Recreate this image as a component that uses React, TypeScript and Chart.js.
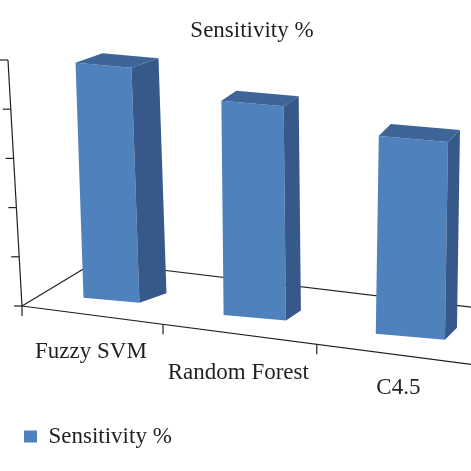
import React, { useEffect, useRef } from 'react';
import { Chart, registerables } from 'chart.js';

Chart.register(...registerables);

// ---- data ----
const categories = ['Fuzzy SVM', 'Random Forest', 'C4.5'];
const sensitivity = [95.5, 87.1, 80.4];
const seriesLabel = 'Sensitivity %';
const chartTitle = 'Sensitivity %';
const yTicks = [0, 20, 40, 60, 80, 100];

// ---- styles ----
const FONT = 'Liberation Serif';
const INK = '#231F20';
const FRONT = '#4F81BD';
const SIDE = '#36598A';
const TOP = '#3D6597';

// ---- perspective geometry (image space) ----
const GEO = {
  originX: 22,
  originY: 306,
  spanX: 444,
  valueSpan: 246,
  axisLean: 0.057,
  slope: 0.13,
  backSlope: 0.12,
  warpA: 0.91,
  warpB: 0.00029,
  shiftX0: 22.5,
  shiftX1: -0.028,
  shiftY0: -14,
  shiftY1: -0.011,
  width0: 53,
  width1: 0.043,
  lean0: 0.045,
  lean1: -0.00016,
  barSlope: 0.088,
  depths: [
    [27, -9.5],
    [15, -10],
    [12, -12],
  ],
  floorDepth: [73, -44],
  yTickLen: 8,
  xTickLen: 10,
  labelDy: 36,
  labelFont: 23,
};

const warp = (u: number) => u * (GEO.warpA + GEO.warpB * u);
const floorPt = (w: number) => [GEO.originX + w, GEO.originY + GEO.slope * w];

function scalesInfo(chart: any) {
  const ca = chart.chartArea;
  const su = GEO.spanX / (ca.right - ca.left);
  const sv = GEO.valueSpan / (ca.bottom - ca.top);
  return { ca, su, sv };
}

function barMatrix(chart: any, el: any) {
  const { ca, su, sv } = scalesInfo(chart);
  const { x, width } = el.getProps(['x', 'width'], true);
  const w = warp((x - ca.left) * su);
  const fp = floorPt(w);
  const ax = fp[0] + GEO.shiftX0 + GEO.shiftX1 * w;
  const ay = fp[1] + GEO.shiftY0 + GEO.shiftY1 * w;
  const k = (GEO.width0 + GEO.width1 * w) / width;
  const lean = GEO.lean0 + GEO.lean1 * w;
  const s = GEO.barSlope;
  const B = ca.bottom;
  return [k, s * k, lean * sv, sv, ax - k * x - lean * sv * B, ay - s * k * x - sv * B];
}

const apply = (m: number[], x: number, y: number) => [m[0] * x + m[2] * y + m[4], m[1] * x + m[3] * y + m[5]];

const perspective = {
  id: 'perspective',
  beforeDatasetsDraw(chart: any) {
    const ctx = chart.ctx as CanvasRenderingContext2D;
    const { ca, su, sv } = scalesInfo(chart);
    const xs = chart.scales.x;
    const ys = chart.scales.y;
    const line = (p: number[], q: number[]) => {
      ctx.beginPath();
      ctx.moveTo(p[0], p[1]);
      ctx.lineTo(q[0], q[1]);
      ctx.stroke();
    };
    const axisPt = (val: number) => {
      const v = (ca.bottom - ys.getPixelForValue(val)) * sv;
      return [GEO.originX - GEO.axisLean * v, GEO.originY - v];
    };

    ctx.save();
    ctx.strokeStyle = INK;
    ctx.lineWidth = 1.2;
    // floor edges
    const o = floorPt(0);
    const far = floorPt(warp(GEO.spanX * 1.08));
    line(o, far);
    const bl = [o[0] + GEO.floorDepth[0], o[1] + GEO.floorDepth[1]];
    const farBackX = far[0] + GEO.floorDepth[0];
    line(bl, [farBackX, bl[1] + GEO.backSlope * (farBackX - bl[0])]);
    line(o, bl);
    // value axis
    line(axisPt(yTicks[0]), axisPt(yTicks[yTicks.length - 1]));
    yTicks.forEach((t) => {
      const p = axisPt(t);
      line([p[0] - GEO.yTickLen, p[1]], p);
    });
    // category ticks
    const n = categories.length;
    const c0 = xs.getPixelForValue(0);
    const step = xs.getPixelForValue(1) - c0;
    for (let i = 0; i <= n; i++) {
      const bx = c0 - step / 2 + i * step;
      const p = floorPt(warp((bx - ca.left) * su));
      line(p, [p[0], p[1] + GEO.xTickLen]);
    }
    ctx.restore();

    // bars: front faces drawn by Chart.js elements in perspective, plus top/side faces
    const meta = chart.getDatasetMeta(0);
    const poly = (pts: number[][], color: string) => {
      ctx.beginPath();
      ctx.moveTo(pts[0][0], pts[0][1]);
      for (let i = 1; i < pts.length; i++) ctx.lineTo(pts[i][0], pts[i][1]);
      ctx.closePath();
      ctx.fillStyle = color;
      ctx.fill();
    };
    meta.data.forEach((el: any, i: number) => {
      const m = barMatrix(chart, el);
      ctx.save();
      ctx.transform(m[0], m[1], m[2], m[3], m[4], m[5]);
      el.draw(ctx);
      ctx.restore();
      const { x, y, base, width } = el.getProps(['x', 'y', 'base', 'width'], true);
      const d = GEO.depths[i % GEO.depths.length];
      const add = (p: number[]) => [p[0] + d[0], p[1] + d[1]];
      const tl = apply(m, x - width / 2, y);
      const tr = apply(m, x + width / 2, y);
      const br = apply(m, x + width / 2, base);
      ctx.save();
      poly([tl, tr, add(tr), add(tl)], TOP);
      poly([tr, br, add(br), add(tr)], SIDE);
      ctx.restore();
    });

    // category labels: centred on the category, baseline following the floor edge under the label's right end
    ctx.save();
    ctx.fillStyle = INK;
    ctx.font = `${GEO.labelFont}px "${FONT}"`;
    ctx.textAlign = 'center';
    ctx.textBaseline = 'alphabetic';
    categories.forEach((label, i) => {
      const wc = warp((xs.getPixelForValue(i) - ca.left) * su);
      const half = ctx.measureText(label).width / 2;
      const p = floorPt(wc);
      const q = floorPt(wc + half);
      ctx.fillText(label, p[0], q[1] + GEO.labelDy);
    });
    ctx.restore();
    return false;
  },
};

export default function App() {
  const ref = useRef<HTMLCanvasElement>(null);
  useEffect(() => {
    document.body.style.margin = '0';
    const canvas = ref.current!;
    const chart = new Chart(canvas, {
      type: 'bar',
      data: {
        labels: categories,
        datasets: [
          {
            label: seriesLabel,
            data: sensitivity,
            backgroundColor: FRONT,
            borderWidth: 0,
            barPercentage: 0.4,
            categoryPercentage: 1,
          },
        ],
      },
      options: {
        animation: false,
        responsive: false,
        events: [],
        layout: { padding: { left: 24, right: -9, top: 0, bottom: 13 } },
        scales: {
          x: { type: 'category', display: false, offset: true },
          y: { type: 'linear', display: false, min: yTicks[0], max: yTicks[yTicks.length - 1], ticks: { stepSize: 20 } },
        },
        plugins: {
          tooltip: { enabled: false },
          title: {
            display: true,
            text: chartTitle,
            color: INK,
            font: { family: FONT, size: 23, weight: 'normal' },
            padding: { top: 17, bottom: 10 },
          },
          legend: {
            display: true,
            position: 'bottom',
            align: 'start',
            labels: {
              color: INK,
              font: { family: FONT, size: 23 },
              boxWidth: 13,
              boxHeight: 12,
              padding: 0,
            },
          },
        },
      },
      plugins: [perspective],
    });
    return () => chart.destroy();
  }, []);
  return (
    <div style={{ position: 'absolute', left: 0, top: 0, width: 471, height: 471 }}>
      <canvas ref={ref} width={471} height={471} style={{ display: 'block', width: 471, height: 471 }} />
    </div>
  );
}
